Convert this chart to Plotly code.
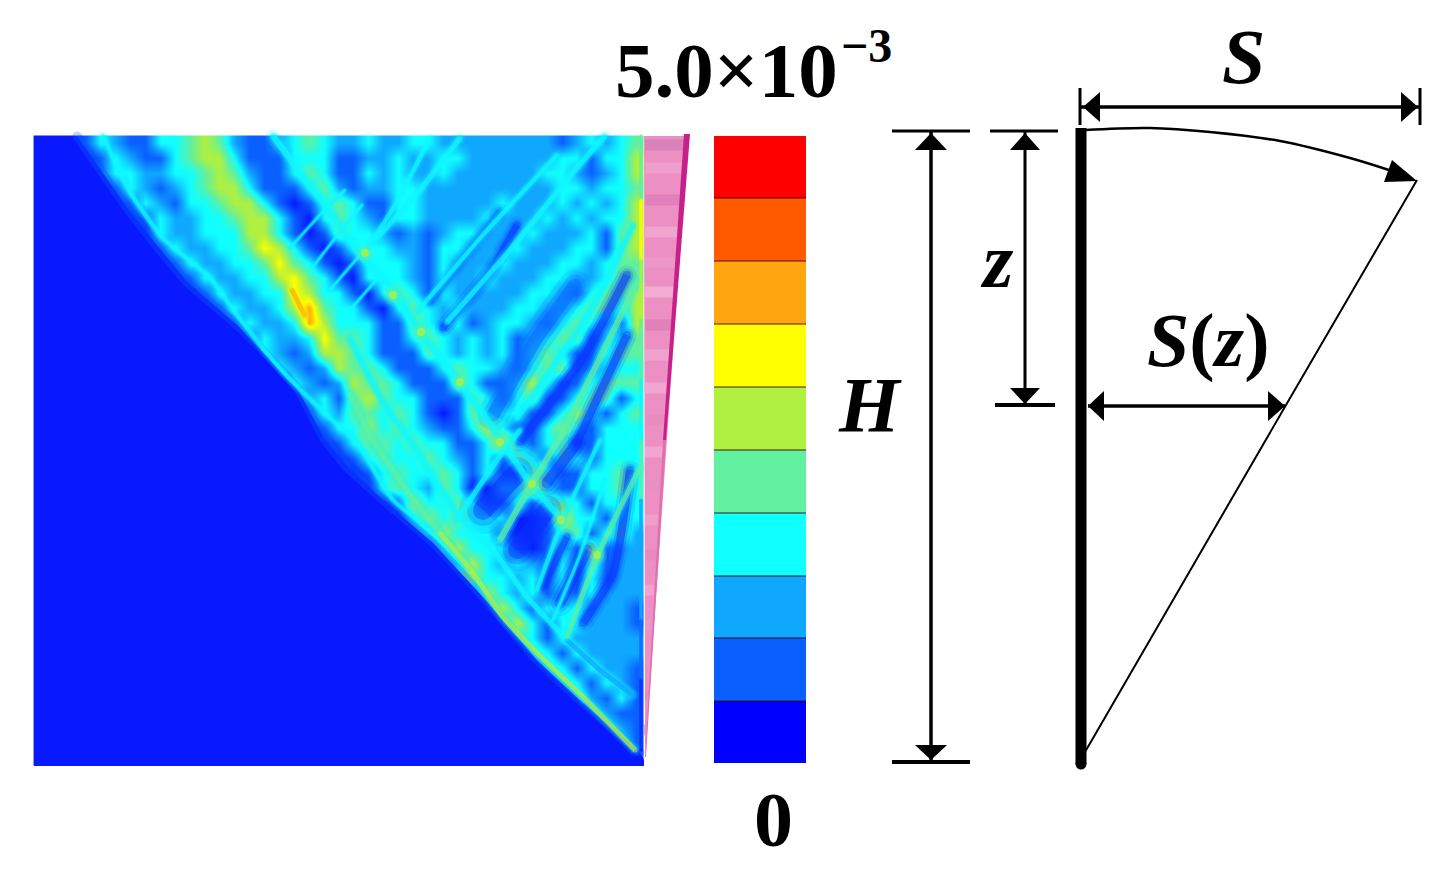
import plotly.graph_objects as go

# ---------- colour levels (bottom to top) ----------
legend_colors = ["#0000ff", "#0a60ff", "#10a8ff", "#10ffff", "#60f0a0",
                 "#b0f040", "#ffff00", "#ffa510", "#ff5a00", "#ff0000"]
legend_y_edges = [763, 701, 638, 576, 513, 450, 387, 324, 261, 198, 136]
legend_x = [714, 806]
legend_levels = [0, 1, 2, 3, 4, 5, 6, 7, 8, 9]
BLUE, DEEP, MID, AZ, CY, GR, LM, YE = "#0818ff", "#0a30ff", "#0a6cff", "#10a8ff", "#10f8ff", "#60f0a0", "#b0f040", "#ffff00"

# ---------- field read cell by cell: digit = legend level, one row every 15 px ----------
field_rows = [
    "00013 21133 45421 12343 22322 33222 22222 12323 4",
    "00001 32113 45531 11333 11223 22332 22222 33133 5",
    "00001 33223 34542 11343 11323 22322 22223 32123 5",
    "00000 13212 34553 11134 21223 32222 22222 33233 4",
    "00000 01321 33455 31013 43113 32222 23222 32323 5",
    "00000 00132 23345 53103 43213 32222 32223 23233 5",
    "00000 00032 23335 53101 43321 21233 22232 22314 5",
    "00000 00013 22334 65310 13332 21332 22322 23314 5",
    "00000 00001 32233 46431 01333 21322 23222 33234 4",
    "00000 00000 13223 35643 10333 21322 32223 32234 4",
    "00000 00000 01322 33653 31034 31322 22233 21344 5",
    "00000 00000 00132 23574 33103 43232 22332 23443 5",
    "00000 00000 00013 22375 33311 43231 23321 34321 5",
    "00000 00000 00001 32236 44311 34323 23123 44123 4",
    "00000 00000 00000 32125 54311 14323 23134 31134 4",
    "00000 00000 00000 13212 54431 11343 32134 41133 3",
    "00000 00000 00000 01321 25443 11143 11353 11344 4",
    "00000 00000 00000 00123 14543 31114 31341 13441 3",
    "00000 00000 00000 00013 24434 31014 33311 35313 4",
    "00000 00000 00000 00001 33534 32113 53113 53133 3",
    "00000 00000 00000 00000 13443 43311 36313 41133 3",
    "00000 00000 00000 00000 01343 34321 31431 43133 3",
    "00000 00000 00000 00000 00134 33431 31144 11334 3",
    "00000 00000 00000 00000 00034 32430 03363 11334 3",
    "00000 00000 00000 00000 00001 53343 11314 43133 3",
    "00000 00000 00000 00000 00000 35343 33001 63313 3",
    "00000 00000 00000 00000 00000 13533 31001 34134 2",
    "00000 00000 00000 00000 00000 00353 33101 31512 2",
    "00000 00000 00000 00000 00000 00135 32321 31412 2",
    "00000 00000 00000 00000 00000 00035 33231 31312 2",
    "00000 00000 00000 00000 00000 00001 53231 31322 2",
    "00000 00000 00000 00000 00000 00000 35313 33222 1",
    "00000 00000 00000 00000 00000 00000 03531 33222 1",
    "00000 00000 00000 00000 00000 00000 00431 32222 2",
    "00000 00000 00000 00000 00000 00000 00043 13222 2",
    "00000 00000 00000 00000 00000 00000 00004 31322 1",
    "00000 00000 00000 00000 00000 00000 00001 43132 1",
    "00000 00000 00000 00000 00000 00000 00000 14213 1",
    "00000 00000 00000 00000 00000 00000 00000 01321 1",
    "00000 00000 00000 00000 00000 00000 00000 00032 1",
    "00000 00000 00000 00000 00000 00000 00000 00013 1",
    "00000 00000 00000 00000 00000 00000 00000 00001 1",
]
field_x_start, field_x_step = 41.0, 14.875
field_y_start, field_y_step = 143.0, 15.0
field_z = [[int(c) * 5e-4 for c in row.replace(" ", "")] for row in field_rows]
field_scale = [BLUE, "#0a60ff", "#10a8ff", "#10ffff", "#60f0a0", "#b0f040", "#ffff00", "#ffa510", "#ff5a00", "#ff0000"]

# ---------- field wave front ----------
wave_front_x = [34, 77, 130, 187, 237, 297, 325, 350, 383, 433, 483, 537, 583, 640, 644, 644, 34]
wave_front_y = [136, 136, 212, 282, 325, 388, 440, 470, 500, 543, 597, 660, 703, 752, 760, 766, 766]

# ---------- thin streaks: x, y, colour, width ----------
dark_bands = [
    ([430, 470, 500], [302, 250, 212], MID, 7),
    ([443, 490, 517], [328, 272, 225], DEEP, 7),
    ([493, 537, 575], [415, 338, 285], MID, 13),
    ([520, 583, 627], [442, 358, 275], DEEP, 8),
    ([577, 627], [442, 335], DEEP, 8),
    ([483, 517], [510, 473], DEEP, 20),
    ([517, 547], [550, 510], DEEP, 18),
    ([547, 577], [483, 443], DEEP, 11),
    ([543, 567], [587, 537], DEEP, 7),
    ([560, 587], [603, 550], DEEP, 11),
    ([583, 613, 630], [623, 573, 470], DEEP, 8),
]
down_streaks = [
    ([103, 130, 163, 210, 237, 283, 330, 357, 393, 433], [136, 192, 238, 278, 315, 372, 418, 442, 500, 530], CY, 4),
    ([273, 307, 330, 363, 393, 420, 457, 500, 530, 563], [136, 182, 212, 258, 288, 332, 378, 438, 483, 520], CY, 6),
    ([350, 383, 410, 457, 493, 527, 567], [338, 402, 440, 513, 550, 597, 640], CY, 5),
    ([567, 600, 633], [640, 670, 695], AZ, 5),
]
up_streaks = [
    ([363, 395, 430], [255, 205, 138], CY, 4),
    ([377, 420, 460], [238, 190, 138], CY, 5),
    ([447, 510, 575, 605], [322, 250, 170, 136], CY, 5),
    ([417, 483, 557], [312, 235, 155], CY, 4),
    ([457, 497, 520], [520, 460, 430], CY, 5),
    ([517, 590, 633], [418, 312, 225], CY, 5),
    ([500, 530, 557, 600, 637], [540, 487, 442, 358, 282], GR, 6),
    ([537, 563, 600], [590, 520, 440], CY, 4),
    ([553, 580, 605], [620, 555, 480], CY, 3),
    ([567, 597, 640], [637, 557, 467], GR, 5),
    ([290, 320, 345], [248, 215, 190], CY, 2.5),
    ([312, 340, 362], [268, 232, 205], CY, 2.5),
    ([330, 360], [290, 255], CY, 2.5),
    ([350, 378], [310, 278], CY, 2.5),
]
front_upper_x = [350, 373, 410, 440]
front_upper_y = [395, 440, 495, 533]
front_lower_x = [440, 473, 503, 537, 583, 635]
front_lower_y = [533, 573, 617, 653, 697, 750]
hot_spots_x = [500, 532, 561, 597, 393, 421, 460, 365]
hot_spots_y = [442, 484, 520, 555, 295, 332, 382, 253]
peak_x = [292, 298, 305]
peak_y = [290, 302, 316]
wall_y = [136, 200, 260, 320, 380, 440, 500, 560, 620, 680, 750]
wall_c = [GR, YE, LM, GR, CY, GR, AZ, AZ, MID, DEEP, BLUE]
pink_rows_y = [145, 168, 200, 232, 262, 292, 325, 355, 388, 420, 452, 485, 520, 555, 590, 625, 660, 695, 730]
pink_rows_c = ["#d880b8", "#f0a0cc", "#e080bc", "#f2a8d0", "#ee98c8", "#f4b0d4", "#e080b8", "#f0a4d0", "#f2a8d4",
               "#ea8cc0", "#f4a8d4", "#e890c4", "#f0a0cc", "#ea88c0", "#f2a4d0", "#e898c8", "#ec94c4", "#e088bc", "#e898c8"]

fig = go.Figure()


def poly(xs, ys, color):
    fig.add_trace(go.Scatter(x=xs, y=ys, mode="lines", fill="toself", fillcolor=color,
                             line=dict(width=0, color=color), hoverinfo="skip"))


def stroke(xs, ys, color, width, opacity=1.0):
    # round ends: a marker of the line's width on the first and last point only
    sizes = [width] + [0] * (len(xs) - 2) + [width]
    fig.add_trace(go.Scatter(x=xs, y=ys, mode="lines+markers", opacity=opacity,
                             line=dict(color=color, width=width, shape="spline", smoothing=0.6),
                             marker=dict(color=color, size=sizes, line=dict(width=0)),
                             hoverinfo="skip"))


def soft(xs, ys, color, width, halo=None, core=0.75):
    halo = halo or color
    stroke(xs, ys, halo, width * 2.4, 0.15)
    stroke(xs, ys, halo, width * 1.6, 0.28)
    stroke(xs, ys, color, width, core)


# field
fig.add_trace(go.Heatmap(
    z=field_z, x0=field_x_start, dx=field_x_step, y0=field_y_start, dy=field_y_step,
    zmin=0, zmax=4.5e-3, zsmooth="best", showscale=False, hoverinfo="skip",
    colorscale=[[i / 9, c] for i, c in enumerate(field_scale)]))
poly(wave_front_x, wave_front_y, BLUE)
stroke(wave_front_x[1:14], wave_front_y[1:14], "#0a60ff", 9, 0.35)

for xs, ys, c, w in dark_bands:
    soft(xs, ys, c, w, core=0.55)
for xs, ys, c, w in down_streaks + up_streaks:
    soft(xs, ys, c, w, CY)
soft(front_upper_x, front_upper_y, GR, 6, CY)
soft(front_lower_x, front_lower_y, LM, 5, CY)
soft(peak_x, peak_y, "#ffb000", 5, YE)
for size, op in [(20, 0.2), (14, 0.35), (8, 0.8)]:
    fig.add_trace(go.Scatter(x=hot_spots_x, y=hot_spots_y, mode="markers", hoverinfo="skip",
                             marker=dict(color=LM if size == 8 else GR, size=size, opacity=op, line=dict(width=0))))
# right-hand wall line
for i in range(len(wall_c)):
    stroke([641, 641], wall_y[i:i + 2], wall_c[i], 3.5, 0.85)

# pink triangle
poly([644, 688, 645], [136, 136, 757], "#ec90c4")
for i, y in enumerate(pink_rows_y):
    fig.add_trace(go.Scatter(x=[645, 686 - (y - 136) * 0.0706], y=[y, y], mode="lines", opacity=0.9,
                             line=dict(color=pink_rows_c[i], width=11), hoverinfo="skip"))
poly([684, 690, 666, 663], [134, 134, 440, 440], "#c8208a")
poly([663, 666, 646, 645], [440, 440, 757, 757], "#e070b0")

# legend bar
fig.add_trace(go.Heatmap(
    x=legend_x, y=legend_y_edges, z=[[v] for v in legend_levels], showscale=False, zmin=0, zmax=9,
    hoverinfo="skip", colorscale=[[i / 9, c] for i, c in enumerate(legend_colors)]))
for y in legend_y_edges[1:-1]:
    fig.add_trace(go.Scatter(x=legend_x, y=[y, y], mode="lines", line=dict(color="rgba(60,0,0,0.6)", width=1.5), hoverinfo="skip"))

# ---------- schematic ----------
dim_lines = [
    ([892, 970], [131, 131], 3), ([931, 931], [131, 762], 3.5), ([892, 970], [762, 762], 4),
    ([990, 1058], [131, 131], 3), ([1025, 1025], [131, 405], 3), ([995, 1055], [405, 405], 4),
    ([1080, 1080], [88, 125], 3), ([1420, 1420], [88, 125], 3), ([1080, 1420], [107, 107], 3.5),
    ([1088, 1285], [406, 406], 3.5),
]
for xs, ys, w in dim_lines:
    fig.add_trace(go.Scatter(x=xs, y=ys, mode="lines", line=dict(color="black", width=w), hoverinfo="skip"))
arrow_heads = [
    ([931, 915, 947], [133, 150, 150]), ([931, 915, 947], [760, 745, 745]),
    ([1025, 1010, 1040], [133, 150, 150]), ([1025, 1010, 1040], [404, 388, 388]),
    ([1083, 1100, 1100], [107, 92, 122]), ([1418, 1401, 1401], [107, 92, 122]),
    ([1088, 1104, 1104], [406, 391, 421]), ([1285, 1268, 1268], [406, 391, 421]),
    ([1417, 1392, 1384], [181, 160, 182]),
]
for xs, ys in arrow_heads:
    poly(xs, ys, "black")
fig.add_trace(go.Scatter(x=[1081, 1081], y=[128, 764], mode="lines",
                         line=dict(color="black", width=11), hoverinfo="skip"))
fig.add_trace(go.Scatter(x=[1081], y=[764], mode="markers", marker=dict(color="black", size=11), hoverinfo="skip"))
curve_x = [1085, 1150, 1210, 1280, 1350, 1395]
curve_y = [130, 128, 132, 141, 158, 172]
fig.add_trace(go.Scatter(x=curve_x, y=curve_y, mode="lines", line=dict(color="black", width=2.5, shape="spline"), hoverinfo="skip"))
fig.add_trace(go.Scatter(x=[1417, 1286, 1085], y=[180, 405, 752], mode="lines", line=dict(color="black", width=2), hoverinfo="skip"))

SERIF = "Liberation Serif, Times New Roman, serif"
labels = [
    ("<b>5.0×10</b>", 726, 70, 79),
    ("<b>−3</b>", 866, 45, 48),
    ("<b>0</b>", 773, 819, 78),
    ("<b><i>H</i></b>", 870, 404, 78),
    ("<b><i>z</i></b>", 997, 260, 78),
    ("<b><i>S</i></b>", 1243, 56, 78),
    ("<b><i>S</i>(<i>z</i>)</b>", 1208, 340, 76),
]
annotations = [dict(x=x, y=y, text=t, showarrow=False, xanchor="center", yanchor="middle",
                    font=dict(family=SERIF, size=s, color="black")) for t, x, y, s in labels]

# the page body adds an 8 px margin, so the axes start at 8 to stay in image coordinates
fig.update_layout(
    width=1445, height=865, margin=dict(l=0, r=0, t=0, b=0), showlegend=False,
    paper_bgcolor="white", plot_bgcolor="white", annotations=annotations,
    xaxis=dict(range=[8, 1453], visible=False, fixedrange=True),
    yaxis=dict(range=[873, 8], visible=False, fixedrange=True),
)
fig.write_html("out.html")
